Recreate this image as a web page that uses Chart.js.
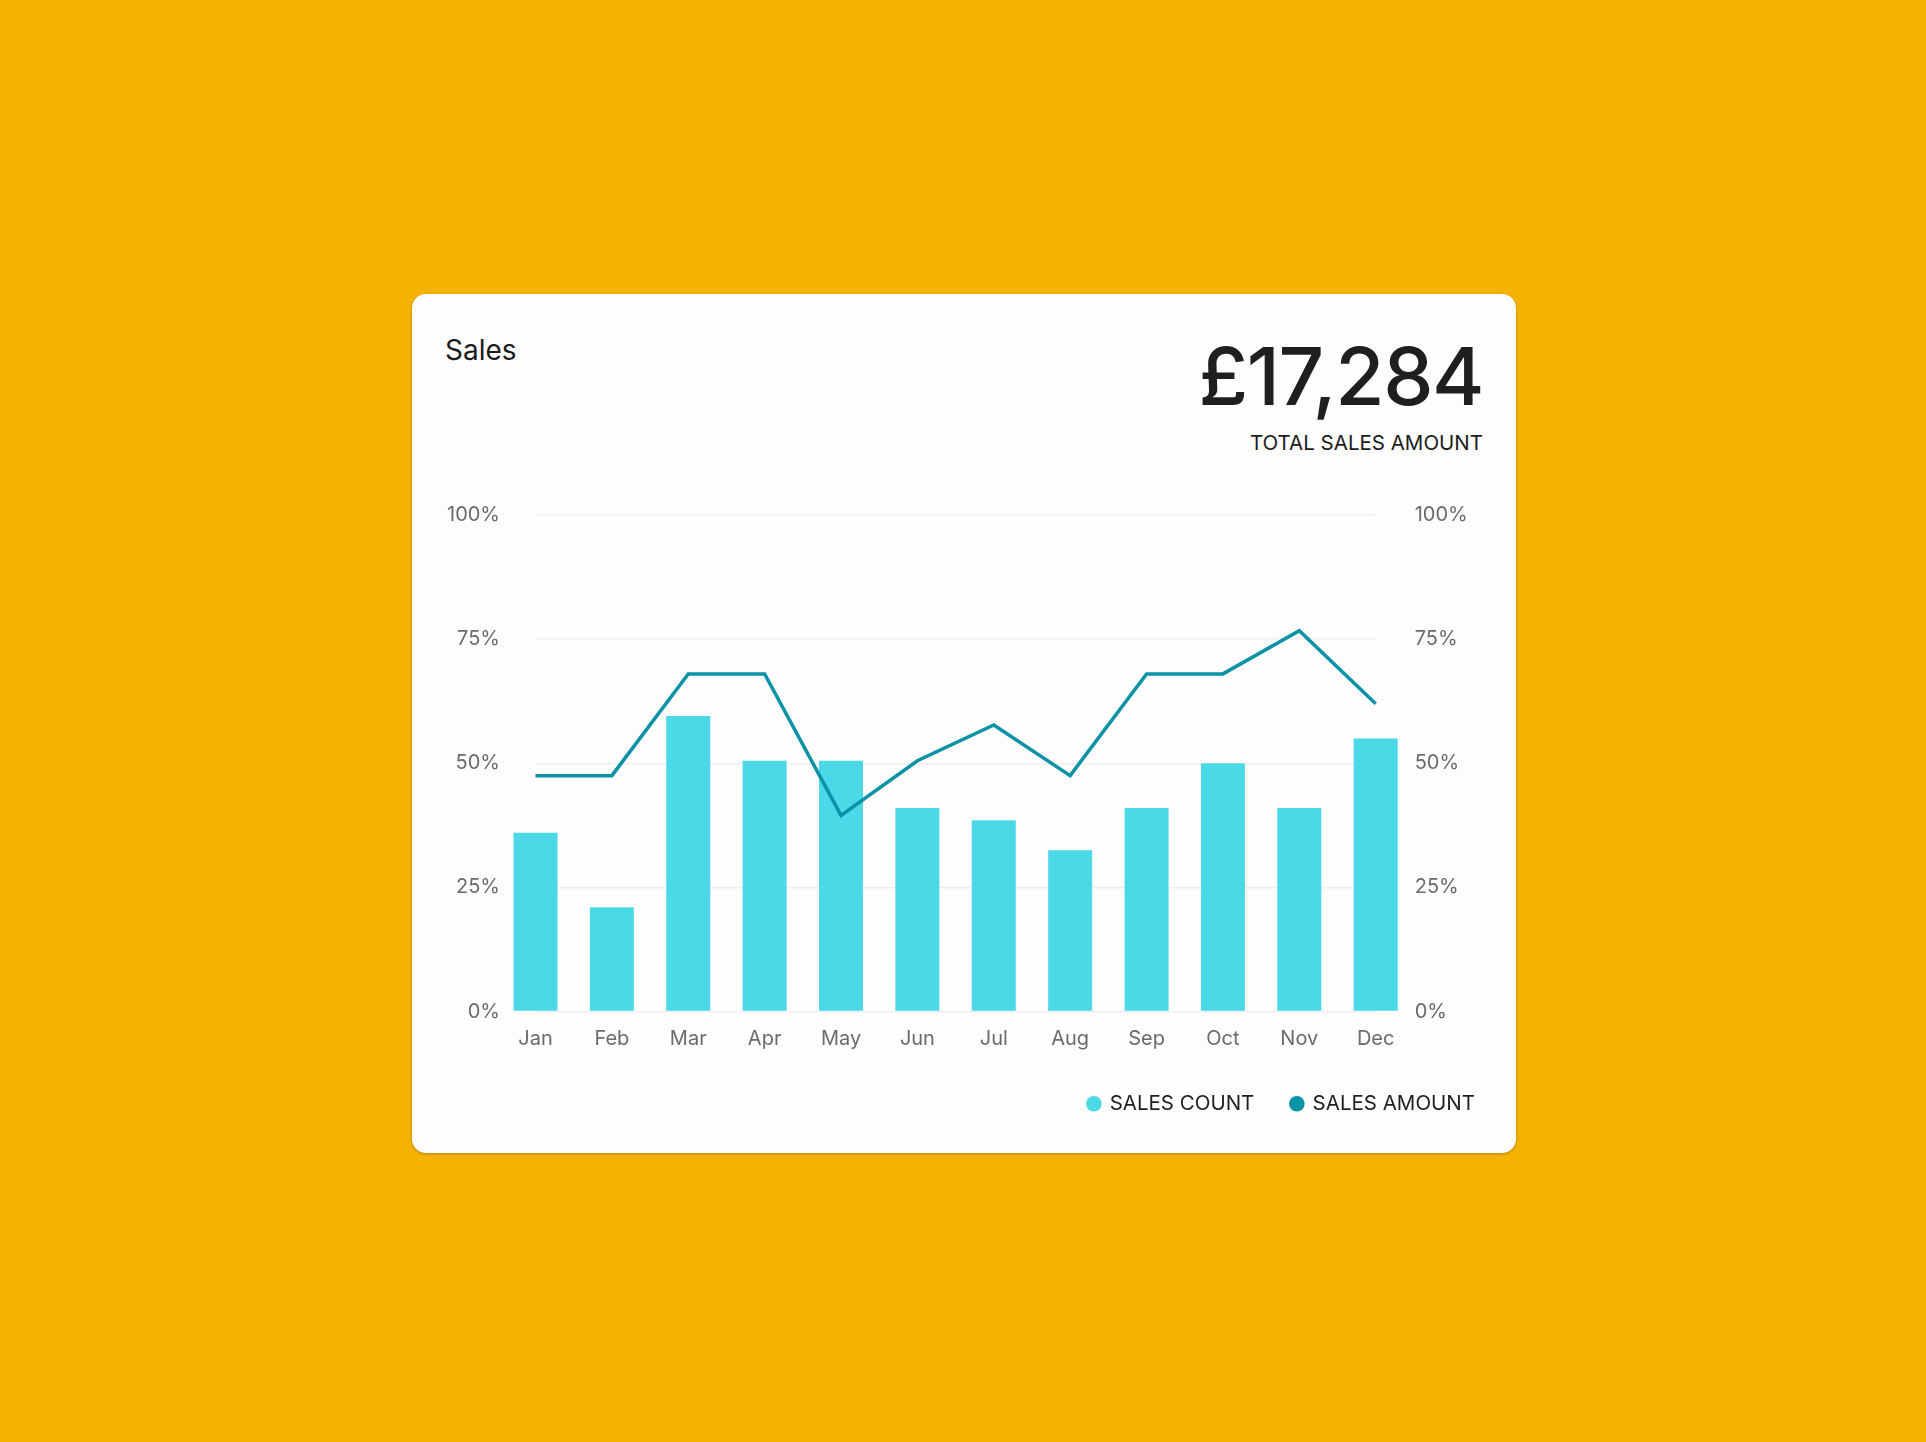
<!DOCTYPE html>
<html>
<head>
<meta charset="utf-8">
<title>Sales</title>
<script src="https://cdn.jsdelivr.net/npm/chart.js@4.4.0/dist/chart.umd.min.js"></script>
<style>
  html, body {
    margin: 0;
    padding: 0;
    width: 1926px;
    height: 1442px;
    background: #f4b301;
    font-family: Inter, "Noto Sans", sans-serif;
    overflow: hidden;
  }
  .card {
    position: absolute;
    left: 412px;
    top: 294px;
    width: 1104px;
    height: 859px;
    background: #fdfdfd;
    border-radius: 14px;
    box-shadow: 0 1px 3px rgba(0, 0, 0, 0.28);
  }
  .title {
    position: absolute;
    left: 445px;
    top: 336px;
    font-size: 28px;
    line-height: 1;
    color: #1c1c1c;
  }
  .total {
    position: absolute;
    right: 443px;
    top: 336px;
    font-size: 80px;
    font-weight: 500;
    line-height: 1;
    color: #1f1f1f;
    letter-spacing: -1.5px;
  }
  .total-label {
    position: absolute;
    right: 443px;
    top: 433px;
    font-size: 20.5px;
    line-height: 1;
    color: #1c1c1c;
  }
  .chart-box {
    position: absolute;
    left: 440px;
    top: 464px;
    width: 1072px;
    height: 660px;
  }
</style>
</head>
<body>
<div class="card"></div>
<div class="title">Sales</div>
<div class="total">£17,284</div>
<div class="total-label">TOTAL SALES AMOUNT</div>
<div class="chart-box"><canvas id="salesChart"></canvas></div>

<script>
  "use strict";

  const months = ["Jan", "Feb", "Mar", "Apr", "May", "Jun", "Jul", "Aug", "Sep", "Oct", "Nov", "Dec"];
  // both series as percent of max
  const salesCount = [36, 21, 59.5, 50.5, 50.5, 41, 38.5, 32.5, 41, 50, 41, 55];
  const salesAmount = [47.5, 47.5, 68, 68, 39.5, 50.5, 57.7, 47.5, 68, 68, 76.7, 62];
  const percentTicks = [0, 25, 50, 75, 100];

  const countColor = "#4bd9e7";
  const amountColor = "#0a92a7";
  const tickFont = { family: "Inter", size: 20 };

  const ctx = document.getElementById("salesChart").getContext("2d");

  new Chart(ctx, {
    type: "bar",
    data: {
      labels: months,
      datasets: [
        {
          label: "SALES COUNT",
          data: salesCount,
          backgroundColor: countColor,
          borderWidth: 0,
          barPercentage: 0.576,
          categoryPercentage: 1,
          clip: false,
          yAxisID: "y",
          order: 1,
        },
        {
          type: "line",
          label: "SALES AMOUNT",
          data: salesAmount,
          borderColor: amountColor,
          backgroundColor: amountColor,
          borderWidth: 3.5,
          tension: 0,
          pointRadius: 0,
          fill: false,
          yAxisID: "y1",
          order: 0,
        },
      ],
    },
    options: {
      responsive: true,
      maintainAspectRatio: false,
      animation: false,
      layout: { padding: { top: 23, left: 0, right: 0, bottom: 0 } },
      plugins: {
        tooltip: { enabled: false },
        legend: {
          position: "bottom",
          align: "end",
          labels: {
            usePointStyle: true,
            boxWidth: 11,
            boxHeight: 11,
            padding: 37,
            color: "#1f1f1f",
            font: { family: "Inter", size: 20.5 },
            sort: (a, b) => a.datasetIndex - b.datasetIndex,
            generateLabels: (chart) => {
              const items = Chart.defaults.plugins.legend.labels.generateLabels(chart);
              items.forEach((item) => {
                item.lineWidth = 0;
                item.pointStyle = "circle";
              });
              return items;
            },
          },
        },
      },
      scales: {
        x: {
          offset: false,
          grid: { display: false, drawTicks: false },
          border: { display: false },
          ticks: { color: "#6b6b6b", font: tickFont, padding: 15.5 },
          afterFit: (scale) => {
            scale.height = 45;
          },
        },
        y: {
          position: "left",
          min: 0,
          max: 100,
          grid: { color: "#efefef", lineWidth: 1.5, drawTicks: false },
          border: { display: false },
          ticks: {
            stepSize: 25,
            color: "#6b6b6b",
            font: tickFont,
            padding: 35.5,
            callback: (v) => (percentTicks.includes(v) ? v + "%" : ""),
          },
          afterFit: (scale) => {
            scale.width = 95.5;
          },
        },
        y1: {
          position: "right",
          min: 0,
          max: 100,
          grid: { display: false, drawTicks: false },
          border: { display: false },
          ticks: {
            stepSize: 25,
            color: "#6b6b6b",
            font: tickFont,
            padding: 39,
            callback: (v) => (percentTicks.includes(v) ? v + "%" : ""),
          },
          afterFit: (scale) => {
            scale.width = 136.3;
          },
        },
      },
    },
  });
</script>
</body>
</html>
